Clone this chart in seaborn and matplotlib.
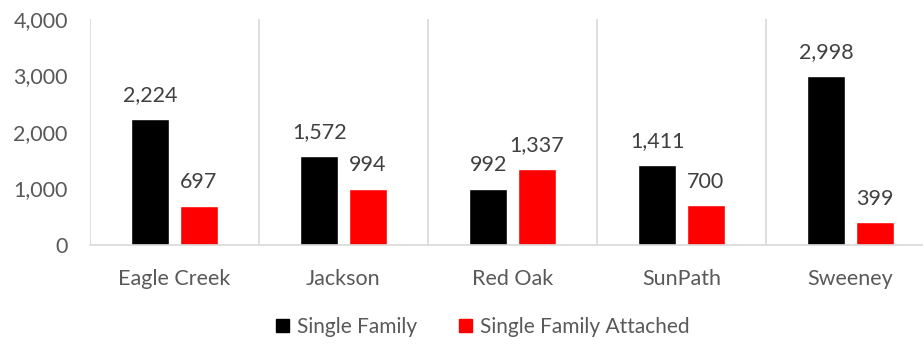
import matplotlib
matplotlib.use("Agg")
import matplotlib.pyplot as plt
import seaborn as sns
import pandas as pd
from matplotlib.patches import Patch

categories = ["Eagle Creek", "Jackson", "Red Oak", "SunPath", "Sweeney"]
series_names = ["Single Family", "Single Family Attached"]
single_family = [2224, 1572, 992, 1411, 2998]
single_family_attached = [697, 994, 1337, 700, 399]
colors = ["#000000", "#FF0000"]
yticks = [0, 1000, 2000, 3000, 4000]

rows = []
for c, v in zip(categories, single_family):
    rows.append({"Community": c, "Type": series_names[0], "Value": v})
for c, v in zip(categories, single_family_attached):
    rows.append({"Community": c, "Type": series_names[1], "Value": v})
df = pd.DataFrame(rows)

sns.set_theme(style="white")
plt.rcParams["font.family"] = ["Lato", "DejaVu Sans"]

fig = plt.figure(figsize=(9.23, 3.44), dpi=100)
ax = fig.add_axes([90 / 923, (344 - 245) / 344, 833 / 923, 226 / 344])

sns.barplot(data=df, x="Community", y="Value", hue="Type", order=categories,
            hue_order=series_names, palette=colors, width=0.57, gap=0.21,
            ax=ax, legend=False, saturation=1)

ax.set_xlim(-0.5, 4.5 - (935 - 923) / 169)
ax.set_ylim(0, 4000)
ax.set_yticks(yticks)
ax.set_yticklabels([f"{t:,}" for t in yticks])
ax.set_xlabel("")
ax.set_ylabel("")

for s in ["top", "right", "left"]:
    ax.spines[s].set_visible(False)
ax.spines["bottom"].set_color("#d9d9d9")
ax.spines["bottom"].set_linewidth(1.2)

for b in [-0.5, 0.5, 1.5, 2.5, 3.5]:
    ax.axvline(b, color="#d9d9d9", lw=1.2, zorder=0)

ax.tick_params(axis="both", length=0, labelsize=15.5, colors="#595959")
ax.tick_params(axis="y", pad=16)
ax.tick_params(axis="x", pad=17)

for cont in ax.containers:
    labels = [f"{int(round(bar.get_height())):,}" for bar in cont]
    ax.bar_label(cont, labels=labels, padding=10, fontsize=15.5, color="#404040")

handles = [Patch(facecolor=c, edgecolor=c) for c in colors]
fig.legend(handles, series_names, loc="center", bbox_to_anchor=(483 / 923, 1 - 327 / 344),
           ncol=2, frameon=False, fontsize=15, handlelength=0.6, handleheight=0.6,
           handletextpad=0.4, columnspacing=2.0, labelcolor="#595959")

fig.savefig("out.png", dpi=100)
